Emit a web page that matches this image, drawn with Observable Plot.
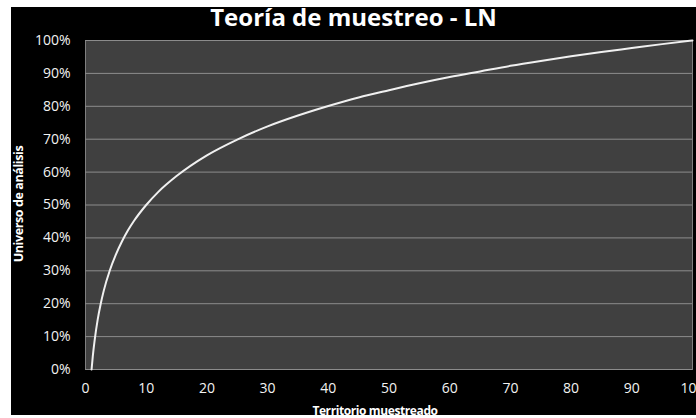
<!DOCTYPE html>
<html>
<head>
<meta charset="utf-8">
<script src="https://cdn.jsdelivr.net/npm/d3@7"></script>
<script src="https://cdn.jsdelivr.net/npm/@observablehq/plot@0.6"></script>
<style>
  html, body { margin: 0; padding: 0; background: #fff; width: 696px; height: 418px; overflow: hidden; }
  #box { position: absolute; left: 11px; top: 7px; width: 685px; height: 408px; background: #000; overflow: hidden; }
  #title { position: absolute; left: 0; width: 685px; top: -2px; text-align: center; color: #fff;
           font-family: "Open Sans", sans-serif; font-weight: bold; font-size: 24px; line-height: 24px; }
  #chart { position: absolute; left: 0; top: 0; }
</style>
</head>
<body>
<div id="box">
  <div id="chart"></div>
  <div id="title">Teoría de muestreo - LN</div>
</div>
<script>
const titleText = "Teoría de muestreo - LN";
const xLabel = "Territorio muestreado";
const yLabel = "Universo de análisis";
const xTicks = [0, 10, 20, 30, 40, 50, 60, 70, 80, 90, 100];
const yTicks = [0, 0.1, 0.2, 0.3, 0.4, 0.5, 0.6, 0.7, 0.8, 0.9, 1.0];
const territorio = [1, 1.2, 1.5, 2, 2.5, 3, 4, 5, 6, 7, 8, 10, 12, 15, 20, 25, 30, 35, 40, 45, 50, 55, 60, 65, 70, 75, 80, 85, 90, 95, 100];
const universo   = [0, 0.040, 0.088, 0.151, 0.199, 0.239, 0.301, 0.349, 0.389, 0.423, 0.452, 0.500, 0.540, 0.588, 0.651, 0.699, 0.739, 0.772, 0.801, 0.827, 0.849, 0.870, 0.889, 0.906, 0.923, 0.938, 0.952, 0.965, 0.977, 0.989, 1.000];

const data = territorio.map((x, i) => ({x, y: universo[i]}));
const font = "'Open Sans', sans-serif";

const chart = Plot.plot({
  width: 685,
  height: 408,
  marginLeft: 74,
  marginRight: 4,
  marginTop: 33,
  marginBottom: 46,
  style: {background: "transparent", color: "#f2f2f2", fontFamily: font, overflow: "visible"},
  x: {domain: [0, 100], ticks: xTicks},
  y: {domain: [0, 1], ticks: yTicks},
  marks: [
    Plot.frame({fill: "#404040", stroke: "#7f7f7f"}),
    Plot.gridY(yTicks, {stroke: "#8c8c8c", strokeOpacity: 1, strokeWidth: 1}),
    Plot.axisX(xTicks, {tickSize: 0, tickPadding: 14, fontSize: 14, fill: "#f2f2f2", label: null}),
    Plot.axisY(yTicks, {tickSize: 0, tickPadding: 15, fontSize: 14, fill: "#f2f2f2", label: null,
                        tickFormat: d => Math.round(d * 100) + "%"}),
    Plot.line(data, {x: "x", y: "y", stroke: "#f0f0f0", strokeWidth: 2, curve: "monotone-x"})
  ]
});
document.getElementById("chart").appendChild(chart);

// axis labels as SVG text placed in the margins
const svg = d3.select(chart);
svg.append("text")
  .attr("x", 364).attr("y", 408)
  .attr("text-anchor", "middle")
  .attr("font-family", font).attr("font-weight", "bold").attr("font-size", 12)
  .attr("letter-spacing", -0.4)
  .attr("fill", "#fff")
  .text(xLabel);
svg.append("text")
  .attr("transform", "translate(12,197) rotate(-90)")
  .attr("text-anchor", "middle")
  .attr("font-family", font).attr("font-weight", "bold").attr("font-size", 12.5)
  .attr("letter-spacing", -0.4)
  .attr("fill", "#fff")
  .text(yLabel);
</script>
</body>
</html>
